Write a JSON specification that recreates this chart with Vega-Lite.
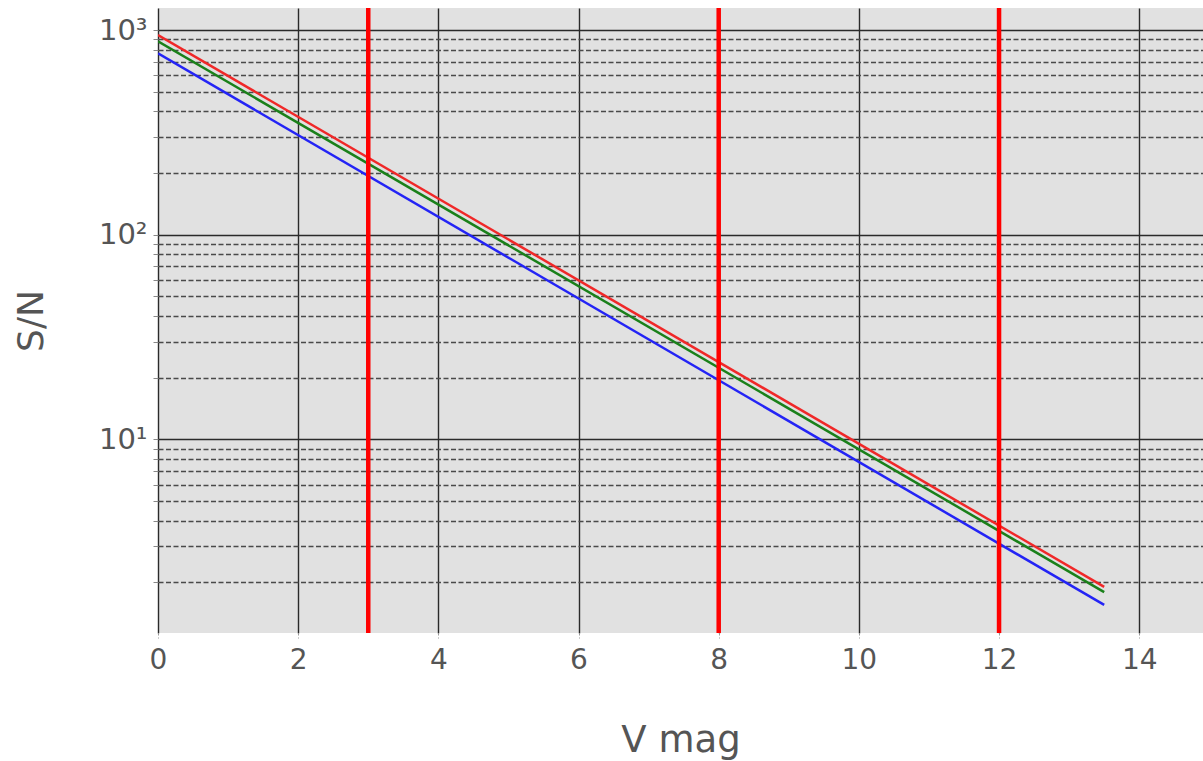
{
  "$schema": "https://vega.github.io/schema/vega-lite/v6.json",
  "width": 1045,
  "height": 625,
  "autosize": {"type": "none"},
  "padding": {"left": 158, "top": 8, "right": 0, "bottom": 128},
  "background": "white",
  "config": {
    "view": {"fill": "#e1e1e1", "stroke": null},
    "font": "DejaVu Sans"
  },
  "datasets": {
    "curves": [
      {"series": "red", "V": 0, "SN": 945},
      {"series": "red", "V": 13.5, "SN": 1.90},
      {"series": "green", "V": 0, "SN": 881},
      {"series": "green", "V": 13.5, "SN": 1.79},
      {"series": "blue", "V": 0, "SN": 769},
      {"series": "blue", "V": 13.5, "SN": 1.55}
    ],
    "limits": [
      {"V": 3},
      {"V": 8},
      {"V": 12}
    ]
  },
  "layer": [
    {
      "data": {"name": "curves"},
      "mark": {"type": "line", "strokeWidth": 2.5, "clip": true},
      "encoding": {
        "x": {
          "field": "V",
          "type": "quantitative",
          "scale": {"domain": [0, 14.91], "nice": false, "zero": false},
          "axis": {
            "values": [0, 2, 4, 6, 8, 10, 12, 14],
            "format": "d",
            "grid": true,
            "gridColor": "#2a2a2a",
            "gridWidth": 1.4,
            "domain": false,
            "tickSize": 5,
            "tickColor": "#999999",
            "tickDash": [2, 2],
            "labelFontSize": 28,
            "labelColor": "#555555",
            "labelPadding": 8,
            "labelFlush": false,
            "labelOverlap": false,
            "title": "V mag",
            "titleFontSize": 37,
            "titleFontWeight": "normal",
            "titleColor": "#555555",
            "titlePadding": 48
          }
        },
        "y": {
          "field": "SN",
          "type": "quantitative",
          "scale": {"type": "log", "domain": [1.13, 1282], "nice": false},
          "axis": {
            "values": [2, 3, 4, 5, 6, 7, 8, 9, 10, 20, 30, 40, 50, 60, 70, 80, 90, 100, 200, 300, 400, 500, 600, 700, 800, 900, 1000],
            "grid": true,
            "gridColor": {"condition": {"test": "datum.value == 10 || datum.value == 100 || datum.value == 1000", "value": "#2a2a2a"}, "value": "#4a4a4a"},
            "gridDash": {"condition": {"test": "datum.value == 10 || datum.value == 100 || datum.value == 1000", "value": []}, "value": [5, 2.5]},
            "gridWidth": {"condition": {"test": "datum.value == 10 || datum.value == 100 || datum.value == 1000", "value": 1.5}, "value": 1.6},
            "domain": false,
            "tickSize": 5,
            "tickColor": "#888888",
            "labelExpr": "datum.value == 1000 ? '10³' : datum.value == 100 ? '10²' : datum.value == 10 ? '10¹' : ''",
            "labelFontSize": 29,
            "labelColor": "#555555",
            "labelPadding": 6,
            "labelFlush": false,
            "labelOverlap": false,
            "labelBound": false,
            "title": "S/N",
            "titleFontSize": 36,
            "titleFontWeight": "normal",
            "titleColor": "#555555",
            "titlePadding": 48
          }
        },
        "color": {
          "field": "series",
          "type": "nominal",
          "scale": {"domain": ["red", "green", "blue"], "range": ["#f02828", "#1a801a", "#2424f5"]},
          "legend": null
        }
      }
    },
    {
      "data": {"name": "limits"},
      "mark": {"type": "rule", "color": "#ff0000", "strokeWidth": 4.5},
      "encoding": {
        "x": {"field": "V", "type": "quantitative"}
      }
    }
  ]
}
